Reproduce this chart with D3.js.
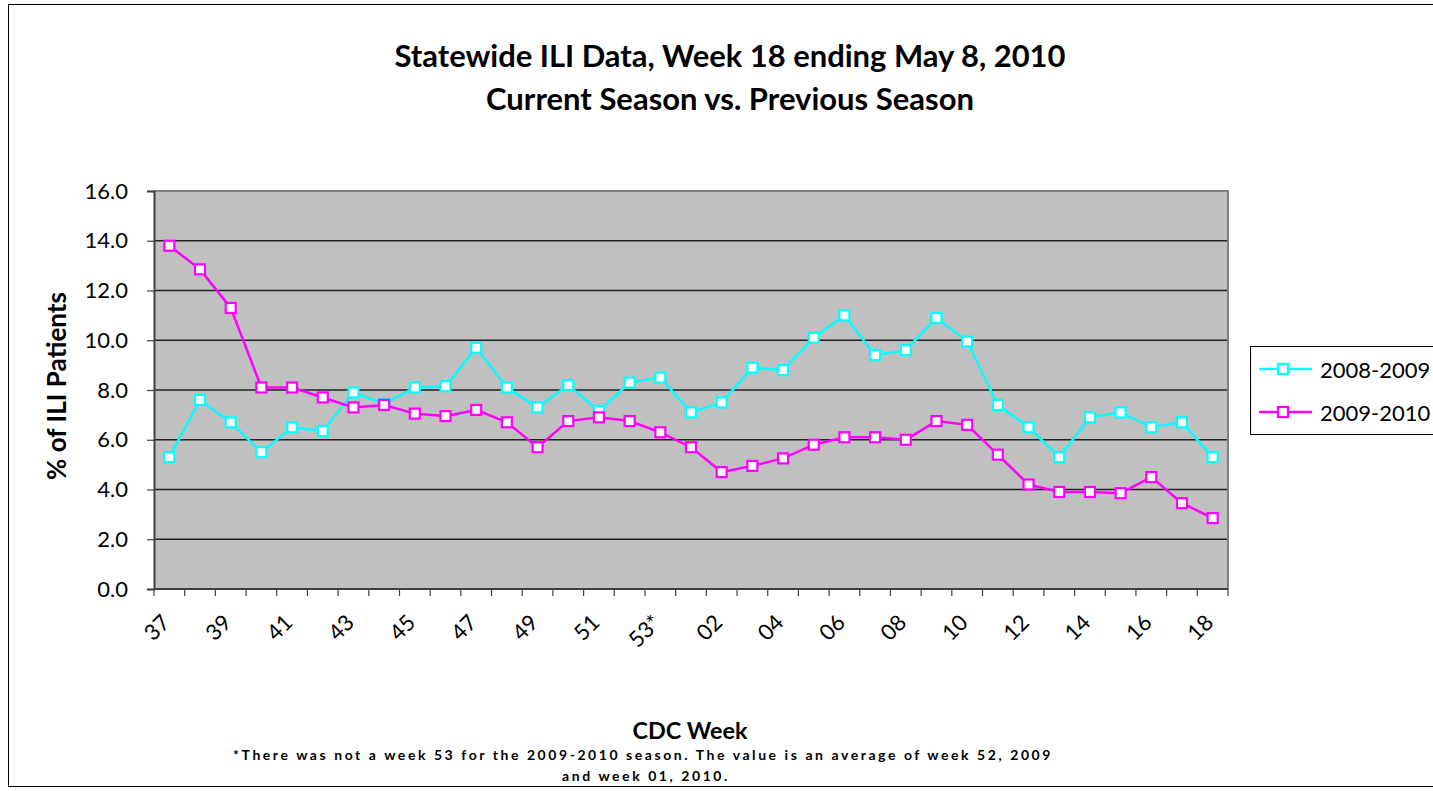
<!DOCTYPE html>
<html>
<head>
<meta charset="utf-8">
<script src="https://cdn.jsdelivr.net/npm/d3@7"></script>
<style>
  html, body { margin: 0; padding: 0; background: #fff; }
  svg { display: block; }
  text { font-family: Lato, "Open Sans", sans-serif; fill: #000; }
</style>
</head>
<body>
<svg id="chart" width="1433" height="791"></svg>
<script>
// ---------- data ----------
const weeks = ["37","38","39","40","41","42","43","44","45","46","47","48","49","50","51","52","53*",
               "01","02","03","04","05","06","07","08","09","10","11","12","13","14","15","16","17","18"];
const season0809 = [5.3,7.6,6.7,5.5,6.5,6.35,7.9,7.45,8.1,8.15,9.7,8.1,7.3,8.2,7.15,8.3,8.5,
                    7.1,7.5,8.9,8.8,10.1,11.0,9.4,9.6,10.9,9.95,7.4,6.5,5.3,6.9,7.1,6.5,6.7,5.3];
const season0910 = [13.8,12.85,11.3,8.1,8.1,7.7,7.3,7.4,7.05,6.95,7.2,6.7,5.7,6.75,6.9,6.75,6.3,
                    5.7,4.7,4.95,5.25,5.8,6.1,6.1,6.0,6.75,6.6,5.4,4.2,3.9,3.9,3.85,4.5,3.45,2.85];
const yTicks = [0,2,4,6,8,10,12,14,16];
const seriesNames = ["2008-2009","2009-2010"];
const seriesColors = ["#00FFFF","#FF00FF"];
const titleLines = ["Statewide ILI Data, Week 18 ending May 8, 2010","Current Season vs. Previous Season"];
const footLines = ["*There was not a week 53 for the 2009-2010 season. The value is an average of week 52, 2009",
                   "and week 01, 2010."];

// ---------- layout ----------
const svg = d3.select("#chart");
const plot = {left: 154, top: 191, right: 1228, bottom: 589};

function fit(sel, target) {
  const n = sel.node();
  const fs = parseFloat(sel.attr("font-size"));
  const w = n.getComputedTextLength();
  sel.attr("font-size", (fs * target / w).toFixed(2));
}

// outer border
svg.append("rect").attr("x", 8.5).attr("y", 4.5).attr("width", 1440).attr("height", 782)
  .attr("fill", "none").attr("stroke", "#000").attr("stroke-width", 1);

const x = d3.scaleBand().domain(weeks).range([plot.left, plot.right]).padding(0);
const y = d3.scaleLinear().domain([0, 16]).range([plot.bottom, plot.top]);

// plot background
svg.append("rect").attr("x", plot.left).attr("y", plot.top)
  .attr("width", plot.right - plot.left).attr("height", plot.bottom - plot.top)
  .attr("fill", "#C0C0C0");

// gridlines
svg.append("g").selectAll("line").data(yTicks.filter(d => d > 0 && d < 16)).join("line")
  .attr("x1", plot.left).attr("x2", plot.right)
  .attr("y1", d => y(d)).attr("y2", d => y(d))
  .attr("stroke", "#222").attr("stroke-width", 1.5);

// top & right border of plot
svg.append("path")
  .attr("d", `M${plot.left},${plot.top}H${plot.right}V${plot.bottom}`)
  .attr("fill", "none").attr("stroke", "#808080").attr("stroke-width", 2);

// y axis
const yAxis = d3.axisLeft(y).tickValues(yTicks).tickSize(7).tickPadding(19).tickFormat(d3.format(".1f"));
const gy = svg.append("g").attr("transform", `translate(${plot.left},0)`).call(yAxis);
gy.select(".domain").attr("stroke", "#404040").attr("stroke-width", 2);
gy.selectAll(".tick line").attr("stroke", "#404040").attr("stroke-width", 1.2);
gy.selectAll(".tick text").attr("font-size", 22).attr("font-family", "Lato").attr("fill", "#000");

// x axis (ticks at band boundaries)
const bounds = weeks.map(w => x(w)).concat([plot.right]);
const gx = svg.append("g");
gx.append("line").attr("x1", plot.left).attr("x2", plot.right)
  .attr("y1", plot.bottom).attr("y2", plot.bottom)
  .attr("stroke", "#404040").attr("stroke-width", 2);
gx.selectAll("line.t").data(bounds).join("line").attr("class", "t")
  .attr("x1", d => d).attr("x2", d => d)
  .attr("y1", plot.bottom).attr("y2", plot.bottom + 7)
  .attr("stroke", "#404040").attr("stroke-width", 1.2);
gx.selectAll("text").data(weeks.filter((w, i) => i % 2 === 0)).join("text")
  .attr("transform", d => `translate(${x(d) + x.bandwidth() / 2 - 4},${plot.bottom + 29}) rotate(-45)`)
  .attr("text-anchor", "end").attr("dominant-baseline", "central")
  .attr("font-size", 22)
  .text(d => d);

// lines and markers
const line = d3.line().x((d, i) => x(weeks[i]) + x.bandwidth() / 2).y(d => y(d));
[season0809, season0910].forEach((vals, k) => {
  svg.append("path").datum(vals).attr("d", line)
    .attr("fill", "none").attr("stroke", seriesColors[k]).attr("stroke-width", 2.5);
  svg.append("g").selectAll("rect").data(vals).join("rect")
    .attr("x", (d, i) => x(weeks[i]) + x.bandwidth() / 2 - 5)
    .attr("y", d => y(d) - 5)
    .attr("width", 10).attr("height", 10)
    .attr("fill", "#fff").attr("stroke", seriesColors[k]).attr("stroke-width", 2.2);
});

// titles
const t1 = svg.append("text").attr("x", 730).attr("y", 67).attr("text-anchor", "middle")
  .attr("font-weight", "bold").attr("font-size", 25).text(titleLines[0]);
fit(t1, 671);
const t2 = svg.append("text").attr("x", 730).attr("y", 110).attr("text-anchor", "middle")
  .attr("font-weight", "bold").attr("font-size", 25).text(titleLines[1]);
fit(t2, 488);

// y axis title
const yt = svg.append("text").attr("transform", `translate(66,386) rotate(-90)`)
  .attr("text-anchor", "middle").attr("font-weight", "bold").attr("font-size", 20)
  .text("% of ILI Patients");
fit(yt, 188);

// x axis title
const xt = svg.append("text").attr("x", 690).attr("y", 739).attr("text-anchor", "middle")
  .attr("font-weight", "bold").attr("font-size", 20).text("CDC Week");
fit(xt, 115);

// footnote (letter-spaced bold sans)
const footNodes = footLines.map((s, i) =>
  svg.append("text").attr("x", i === 0 ? 643 : 646).attr("y", 760 + i * 21)
    .attr("text-anchor", "middle").attr("font-weight", "bold")
    .attr("font-family", "Liberation Sans, Arial, sans-serif")
    .attr("font-size", 14).attr("letter-spacing", 0)
    .text(s));
{
  const w0 = footNodes[0].node().getComputedTextLength();
  const spacing = (820 - w0) / footLines[0].length;
  footNodes.forEach(t => t.attr("letter-spacing", spacing.toFixed(2)));
}

// legend
const lg = svg.append("g");
lg.append("rect").attr("x", 1250.5).attr("y", 346.5).attr("width", 200).attr("height", 88)
  .attr("fill", "#fff").attr("stroke", "#000").attr("stroke-width", 1);
seriesNames.forEach((name, k) => {
  const ly = 369 + k * 43;
  lg.append("line").attr("x1", 1259).attr("x2", 1312).attr("y1", ly).attr("y2", ly)
    .attr("stroke", seriesColors[k]).attr("stroke-width", 2.5);
  lg.append("rect").attr("x", 1278).attr("y", ly - 5).attr("width", 10).attr("height", 10)
    .attr("fill", "#fff").attr("stroke", seriesColors[k]).attr("stroke-width", 2.2);
  lg.append("text").attr("x", 1320).attr("y", ly).attr("dominant-baseline", "central")
    .attr("font-size", 22).text(name);
});
</script>
</body>
</html>
